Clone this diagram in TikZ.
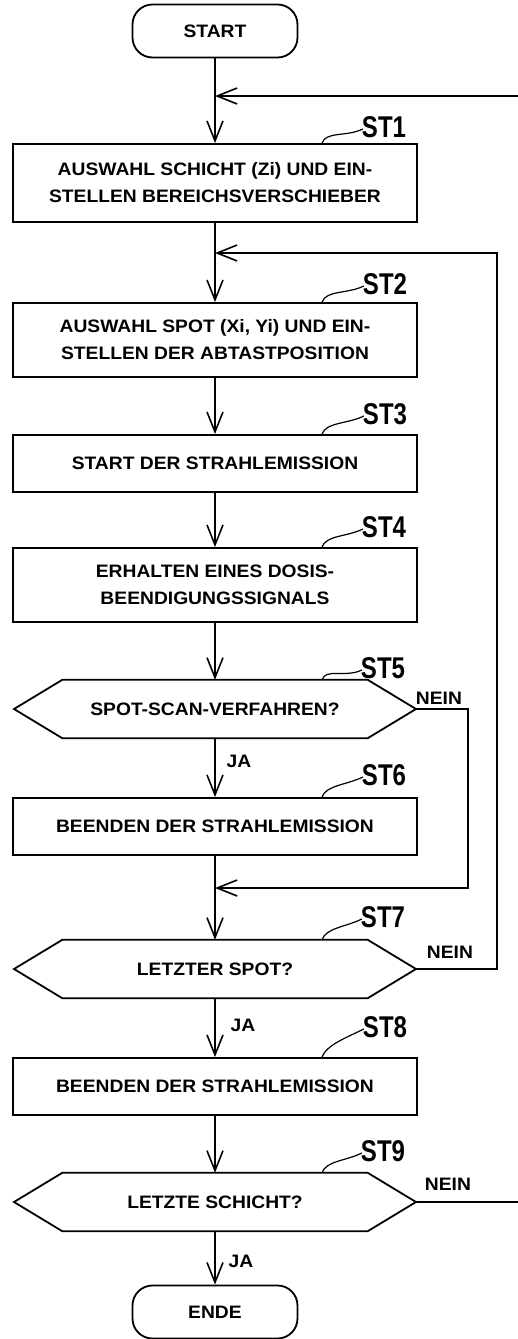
\documentclass[tikz,border=0pt]{standalone}
\usepackage{fontspec}
\setmainfont{Liberation Sans}[FakeStretch=1.07]
\newfontfamily\stfont{Liberation Sans}[FakeStretch=0.8]
\usetikzlibrary{arrows.meta}
\begin{document}
\begin{tikzpicture}[x=1pt,y=-1pt,
  txt/.style={font=\fontsize{18}{27}\selectfont\bfseries},
  box/.style={draw, line width=1.8pt, minimum width=404pt, inner sep=0pt, align=center, txt},
  term/.style={draw, line width=1.8pt, rounded corners=20pt, minimum width=165pt, minimum height=53pt, inner sep=0pt, txt},
  hexn/.style={minimum width=305pt, minimum height=58pt, inner sep=0pt, txt},
  hexline/.style={line width=1.8pt, line join=miter},
  stl/.style={font=\stfont\fontsize{30}{30}\selectfont\bfseries, inner sep=0pt},
  lbl/.style={inner sep=0pt, txt},
  conn/.style={line width=1.8pt},
  arr/.style={conn, -{Straight Barb[length=20pt,width=16pt,line width=1.6pt]}},
  lead/.style={line width=1.2pt}
]
\useasboundingbox (0,0) rectangle (518,1339);

% nodes
\node[term] (start) at (215,31) {START};
\node[box, minimum height=78pt] (st1) at (215,183) {AUSWAHL SCHICHT (Zi) UND EIN-\\STELLEN BEREICHSVERSCHIEBER};
\node[box, minimum height=74pt] (st2) at (215,340) {AUSWAHL SPOT (Xi, Yi) UND EIN-\\STELLEN DER ABTASTPOSITION};
\node[box, minimum height=57pt] (st3) at (215,463.5) {START DER STRAHLEMISSION};
\node[box, minimum height=74pt] (st4) at (215,585) {ERHALTEN EINES DOSIS-\\BEENDIGUNGSSIGNALS};
\node[hexn] (st5) at (215,709) {SPOT-SCAN-VERFAHREN?};
\node[box, minimum height=57pt] (st6) at (215,826.5) {BEENDEN DER STRAHLEMISSION};
\node[hexn] (st7) at (215,969) {LETZTER SPOT?};
\node[box, minimum height=57pt] (st8) at (215,1086.5) {BEENDEN DER STRAHLEMISSION};
\node[hexn] (st9) at (215,1202) {LETZTE SCHICHT?};
\node[term] (ende) at (215,1312) {ENDE};

% hexagon tips
\foreach \n/\y in {st5/709, st7/969, st9/1202}{
  \coordinate (\n-r) at (416,\y);
  \coordinate (\n-l) at (14,\y);
  \draw[hexline] (\n.north west) -- (\n.north east) -- (\n-r) -- (\n.south east) -- (\n.south west) -- (\n-l) -- cycle;
}

% step labels
\node[stl] (l1) at (384,127) {ST1};
\node[stl] (l2) at (385,284) {ST2};
\node[stl] (l3) at (385,414) {ST3};
\node[stl] (l4) at (384,527) {ST4};
\node[stl] (l5) at (383,668) {ST5};
\node[stl] (l6) at (384,775) {ST6};
\node[stl] (l7) at (383,917) {ST7};
\node[stl] (l8) at (385,1027) {ST8};
\node[stl] (l9) at (383,1151) {ST9};

\foreach \b/\l in {st1/l1, st2/l2, st3/l3, st4/l4, st5/l5, st6/l6, st7/l7, st8/l8, st9/l9}{
  \draw[lead] ([xshift=107pt]\b.north) .. controls +(4,-12) and +(-16,8) .. ([xshift=1pt,yshift=-2pt]\l.west);
}

% yes/no labels
\node[lbl] (n5) at (439,698) {NEIN};
\node[lbl] (n7) at (450,952) {NEIN};
\node[lbl] (n9) at (448,1184) {NEIN};
\node[lbl] (j5) at (239,761) {JA};
\node[lbl] (j7) at (243,1025) {JA};
\node[lbl] (j9) at (241,1261) {JA};

% main flow
\draw[arr] (start) -- (st1);
\draw[arr] (st1) -- (st2);
\draw[arr] (st2) -- (st3);
\draw[arr] (st3) -- (st4);
\draw[arr] (st4) -- (st5);
\draw[arr] (st5) -- (st6);
\draw[arr] (st6) -- (st7);
\draw[arr] (st7) -- (st8);
\draw[arr] (st8) -- (st9);
\draw[arr] (st9) -- (ende);

% junctions and loops
\coordinate (jn1) at (215,96);
\coordinate (jn2) at (215,253);
\coordinate (jn3) at (215,888);
\coordinate (out9) at (518,1202);
\coordinate (in1) at (518,96);

\draw[conn] (st9-r) -- (out9);
\draw[arr] (in1) -- (jn1);
\draw[arr] (st7-r) -- (497,969) |- (jn2);
\draw[arr] (st5-r) -- (468,709) |- (jn3);
\end{tikzpicture}
\end{document}
